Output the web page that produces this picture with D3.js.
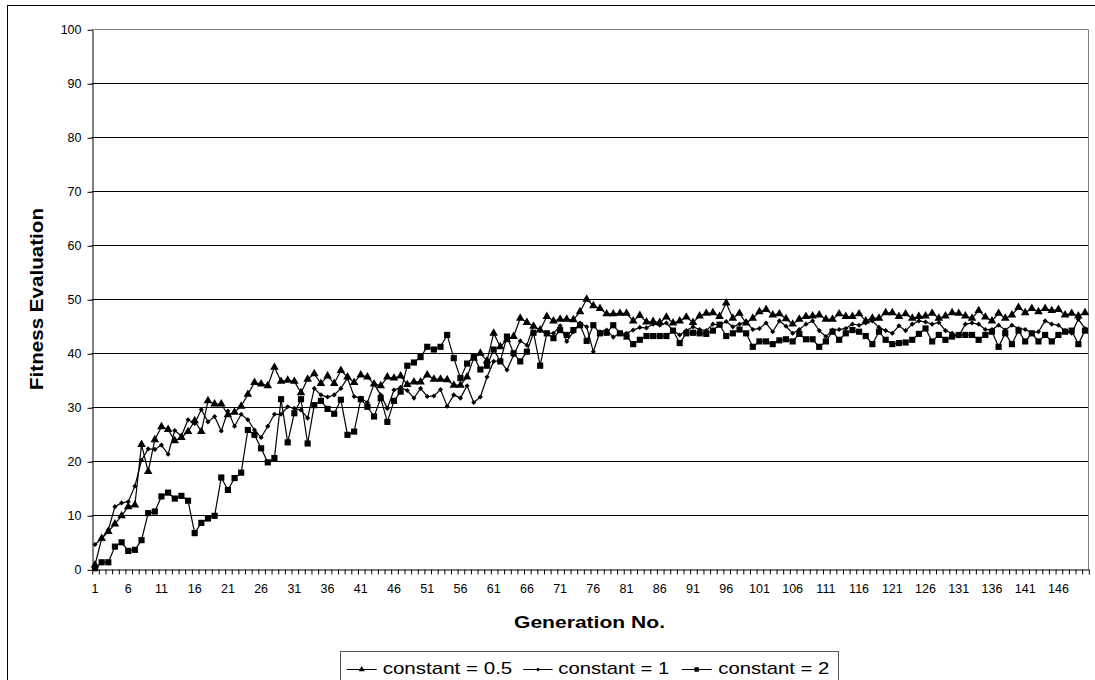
<!DOCTYPE html>
<html>
<head>
<meta charset="utf-8">
<script src="https://cdn.jsdelivr.net/npm/d3@7/dist/d3.min.js"></script>
<style>
  html, body { margin: 0; padding: 0; background: #fff; }
  svg { display: block; }
  text { font-family: "Liberation Sans", Arial, sans-serif; fill: #000; }
</style>
</head>
<body>
<svg id="chart" width="1095" height="680"></svg>
<script>
// ---------- data ----------
const generations = d3.range(1, 151);
const xTickLabels = [1, 6, 11, 16, 21, 26, 31, 36, 41, 46, 51, 56, 61, 66, 71, 76, 81, 86, 91, 96, 101, 106, 111, 116, 121, 126, 131, 136, 141, 146];
const yTicks = [0, 10, 20, 30, 40, 50, 60, 70, 80, 90, 100];
const seriesNames = ["constant = 0.5", "constant = 1", "constant = 2"];

const constant05 = [
  0.8, 5.7, 7.0, 8.4, 9.9, 11.6, 11.9, 23.1, 18.1, 24.0,
  26.4, 25.9, 23.8, 24.4, 25.5, 27.5, 25.5, 31.2, 30.6, 30.6,
  28.6, 29.1, 30.2, 32.4, 34.6, 34.3, 34.0, 37.4, 34.8, 35.0,
  34.8, 32.7, 35.2, 36.2, 34.4, 35.8, 34.4, 36.8, 35.6, 34.6,
  36.0, 35.6, 34.3, 34.0, 35.6, 35.4, 35.8, 34.2, 34.7, 34.7,
  36.0, 35.2, 35.2, 35.1, 34.1, 34.1, 35.6, 39.1, 40.0, 38.6,
  43.7, 41.2, 42.5, 43.1, 46.5, 45.7, 45.0, 44.3, 46.8, 46.0,
  46.3, 46.3, 46.2, 47.7, 50.0, 48.8, 48.3, 47.3, 47.3, 47.4,
  47.4, 46.0, 47.0, 45.8, 45.9, 45.7, 46.7, 45.6, 46.0, 46.7,
  45.7, 46.9, 47.4, 47.5, 46.8, 49.3, 46.5, 47.4, 45.6, 46.5,
  47.7, 48.1, 47.1, 47.3, 46.4, 45.4, 46.3, 46.8, 46.9, 47.1,
  46.3, 46.3, 47.3, 46.8, 46.8, 47.3, 46.0, 46.5, 46.5, 47.5,
  47.5, 46.8, 47.3, 46.5, 46.8, 46.9, 47.4, 46.5, 46.9, 47.5,
  47.4, 46.9, 46.5, 47.9, 46.7, 46.0, 47.4, 46.5, 47.1, 48.5,
  47.5, 48.3, 47.7, 48.3, 47.9, 48.1, 47.1, 47.4, 46.9, 47.5
];
const constant1 = [
  4.6, 5.7, 7.3, 11.6, 12.3, 12.5, 15.4, 20.2, 22.3, 22.2,
  23.0, 21.3, 25.7, 24.7, 27.7, 27.0, 29.6, 27.3, 28.3, 25.6,
  29.3, 26.5, 28.7, 27.7, 25.8, 24.4, 26.5, 28.7, 28.7, 30.1,
  29.8, 29.5, 28.0, 33.5, 32.3, 31.9, 32.3, 33.5, 35.4, 32.0,
  31.7, 30.9, 34.3, 32.3, 29.8, 33.2, 33.7, 33.1, 31.7, 33.5,
  32.0, 32.1, 33.3, 30.2, 32.3, 31.7, 34.0, 30.9, 31.9, 35.6,
  38.5, 38.6, 36.9, 39.7, 42.3, 41.5, 45.1, 44.2, 43.7, 43.7,
  45.1, 42.2, 44.0, 45.6, 44.9, 40.3, 44.0, 44.3, 43.0, 43.7,
  43.7, 44.3, 44.8, 44.7, 45.4, 45.2, 45.6, 44.2, 43.4, 44.2,
  44.9, 44.4, 44.2, 45.4, 45.2, 45.9, 44.9, 45.4, 45.9, 44.4,
  44.6, 45.6, 44.0, 46.0, 45.0, 43.7, 44.4, 45.4, 46.0, 44.2,
  43.1, 44.3, 44.4, 44.6, 45.4, 45.2, 45.6, 46.0, 44.8, 44.2,
  43.7, 45.1, 44.2, 45.4, 46.0, 45.8, 45.4, 45.7, 44.2, 43.7,
  43.2, 45.4, 45.6, 45.4, 44.4, 44.4, 45.2, 44.3, 45.2, 44.6,
  44.4, 43.8, 44.0, 46.0, 45.4, 45.2, 44.2, 43.7, 46.3, 44.6
];
const constant2 = [
  0.2, 1.3, 1.3, 4.2, 5.0, 3.4, 3.6, 5.4, 10.4, 10.7,
  13.5, 14.2, 13.1, 13.6, 12.7, 6.7, 8.6, 9.4, 9.9, 17.0,
  14.7, 16.9, 17.9, 25.8, 24.9, 22.4, 19.8, 20.6, 31.5, 23.5,
  28.9, 31.5, 23.3, 30.4, 31.2, 29.7, 28.8, 31.4, 24.9, 25.5,
  31.5, 30.1, 28.3, 31.7, 27.3, 31.2, 32.9, 37.7, 38.3, 39.3,
  41.2, 40.7, 41.2, 43.4, 39.1, 35.4, 38.1, 39.4, 37.0, 37.7,
  40.7, 38.5, 43.1, 40.0, 38.5, 40.3, 43.8, 37.7, 43.7, 42.8,
  44.3, 43.4, 44.3, 45.2, 42.3, 45.2, 43.7, 43.8, 45.2, 43.7,
  43.1, 41.7, 42.5, 43.2, 43.2, 43.2, 43.2, 44.2, 41.9, 43.7,
  43.8, 43.7, 43.6, 44.2, 45.3, 43.2, 43.7, 44.4, 43.7, 41.2,
  42.2, 42.2, 41.7, 42.4, 42.6, 42.2, 43.6, 42.6, 42.6, 41.2,
  42.2, 44.0, 42.5, 43.7, 44.3, 44.0, 43.2, 41.7, 44.0, 42.5,
  41.7, 41.9, 42.0, 42.5, 43.6, 44.6, 42.2, 43.4, 42.5, 43.1,
  43.4, 43.4, 43.4, 42.5, 43.4, 44.0, 41.2, 43.7, 41.7, 44.2,
  42.2, 43.7, 42.2, 43.4, 42.2, 43.4, 44.0, 44.2, 41.7, 44.2
];

// ---------- layout ----------
const svg = d3.select("#chart");
const plotL = 91.7, plotR = 1088.3, plotT = 29.3, plotB = 569.3;

svg.append("rect").attr("x", 0).attr("y", 0).attr("width", 1095).attr("height", 680).attr("fill", "#fff");
// outer chart border (extends beyond the visible area on right/bottom)
svg.append("rect").attr("x", 7.5).attr("y", 5.5).attr("width", 1200).attr("height", 800)
  .attr("fill", "none").attr("stroke", "#000").attr("stroke-width", 1);

const x = d3.scaleBand().domain(generations).range([plotL, plotR]).padding(0);
const xc = d => x(d) + x.bandwidth() / 2;
const xBound = d3.scaleLinear().domain([0, 150]).range([plotL, plotR]);
const y = d3.scaleLinear().domain([0, 100]).range([plotB, plotT]);

// gridlines
svg.append("g").selectAll("line").data(yTicks.filter(v => v > 0 && v < 100)).join("line")
  .attr("x1", plotL).attr("x2", plotR)
  .attr("y1", d => Math.round(y(d)) + 0.5).attr("y2", d => Math.round(y(d)) + 0.5)
  .attr("stroke", "#000").attr("stroke-width", 1);
// plot area border (top and right, gray)
svg.append("path")
  .attr("d", `M${plotL},${Math.round(plotT) + 0.5}H${Math.round(plotR) + 0.5}V${plotB}`)
  .attr("fill", "none").attr("stroke", "#808080").attr("stroke-width", 1);

// y axis
const yAxis = svg.append("g").attr("transform", `translate(${Math.round(plotL) + 0.5},0.5)`)
  .call(d3.axisLeft(y).tickValues(yTicks).tickSize(5).tickSizeOuter(0).tickPadding(6));
yAxis.selectAll("text").style("font-size", "12.5px").style("font-family", '"Liberation Sans", Arial, sans-serif').attr("fill", "#000");
yAxis.selectAll("line,path").attr("stroke", "#000");

// x axis: boundary ticks
const xAxisTicks = svg.append("g").attr("transform", `translate(0.5,${Math.round(plotB) + 0.5})`)
  .call(d3.axisBottom(xBound).tickValues(d3.range(0, 151)).tickSize(5).tickSizeOuter(0).tickFormat(""));
xAxisTicks.selectAll("line,path").attr("stroke", "#000");
// x axis: labels
const xAxisLabels = svg.append("g").attr("transform", `translate(0,${Math.round(plotB) + 0.5})`)
  .call(d3.axisBottom(x).tickValues(xTickLabels).tickSize(0).tickPadding(14.5));
xAxisLabels.select(".domain").remove();
xAxisLabels.selectAll("text").style("font-size", "12.5px").style("font-family", '"Liberation Sans", Arial, sans-serif').attr("fill", "#000");

// axis titles
svg.append("text").attr("x", 589.5).attr("y", 627.5).attr("text-anchor", "middle")
  .attr("textLength", 151).attr("lengthAdjust", "spacingAndGlyphs")
  .style("font-size", "17px").style("font-weight", "bold").text("Generation No.");
svg.append("text").attr("transform", "translate(42.5,299) rotate(-90)").attr("text-anchor", "middle")
  .attr("textLength", 182).attr("lengthAdjust", "spacingAndGlyphs")
  .style("font-size", "19px").style("font-weight", "bold").text("Fitness Evaluation");

// ---------- series ----------
const markers = [
  { name: seriesNames[0], values: constant05, type: d3.symbolTriangle, size: 32, rot: 0, legSize: 16 },
  { name: seriesNames[1], values: constant1, type: d3.symbolSquare, size: 13, rot: 45, legSize: 8 },
  { name: seriesNames[2], values: constant2, type: d3.symbolSquare, size: 38, rot: 0, legSize: 20 }
];

const line = d3.line().x((d, i) => xc(generations[i])).y(d => y(d));

markers.forEach(s => {
  const g = svg.append("g");
  g.append("path").datum(s.values).attr("d", line)
    .attr("fill", "none").attr("stroke", "#000").attr("stroke-width", 1.2);
  g.selectAll("path.m").data(s.values).join("path").attr("class", "m")
    .attr("d", d3.symbol().type(s.type).size(s.size))
    .attr("transform", (d, i) => `translate(${xc(generations[i])},${y(d)}) rotate(${s.rot})`)
    .attr("fill", "#000");
});

// ---------- legend ----------
svg.append("rect").attr("x", 340.5).attr("y", 651.5).attr("width", 498).attr("height", 60)
  .attr("fill", "#fff").attr("stroke", "#555").attr("stroke-width", 1);
const legendItems = [
  { lx1: 346.7, lx2: 376.7, tx: 382.7, tw: 129.6 },
  { lx1: 523.3, lx2: 552.7, tx: 558.3, tw: 111 },
  { lx1: 681.7, lx2: 711.7, tx: 718.3, tw: 111 }
];
legendItems.forEach((it, k) => {
  const m = markers[k];
  svg.append("line").attr("x1", it.lx1).attr("x2", it.lx2).attr("y1", 669.5).attr("y2", 669.5)
    .attr("stroke", "#000").attr("stroke-width", 1);
  svg.append("path").attr("d", d3.symbol().type(m.type).size(m.legSize))
    .attr("transform", `translate(${(it.lx1 + it.lx2) / 2},669.5) rotate(${m.rot})`).attr("fill", "#000");
  svg.append("text").attr("x", it.tx).attr("y", 674).attr("textLength", it.tw).attr("lengthAdjust", "spacingAndGlyphs")
    .style("font-size", "17px").text(m.name);
});
</script>
</body>
</html>
